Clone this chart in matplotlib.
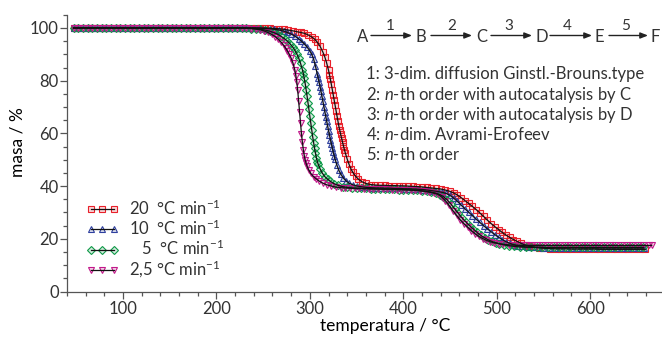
import matplotlib
matplotlib.use("Agg")
import matplotlib.pyplot as plt
from matplotlib.colors import to_rgba
from matplotlib.ticker import MultipleLocator

plt.rcParams["font.family"] = ["Lato", "DejaVu Sans"]
plt.rcParams["mathtext.fontset"] = "custom"
plt.rcParams["mathtext.rm"] = "Lato"
plt.rcParams["mathtext.it"] = "Lato:italic"
plt.rcParams["text.color"] = "#333333"

# ---- data (temperature in C, mass in %) ----
flat_t = [47, 52, 57, 62, 67, 72, 77, 82, 87, 92, 97, 102, 107, 112, 117, 122, 127,
          132, 137, 142, 147, 152, 157, 162, 167, 172, 177, 182, 187, 192, 197, 202,
          207, 212, 217, 222, 227]

# 2,5 C/min
t_25 = flat_t + [
    232, 237, 242, 247, 251, 255, 259, 263, 266, 269, 272, 274, 276, 278, 280, 282,
    284, 285, 286, 287, 288, 289, 290, 291, 292, 293, 294, 295, 296, 297, 299, 301,
    304, 307, 310, 314, 318, 323, 328, 333, 338, 343, 348, 353, 358, 363, 368, 373,
    378, 383, 388, 393, 398, 403, 408, 413, 418, 423, 428, 433, 437, 441, 445, 449,
    453, 457, 461, 465, 469, 473, 477, 481, 485, 489, 493, 497, 502, 507, 513, 519,
    525, 531, 537, 543, 549, 555, 561, 567, 573, 579, 585, 591, 597, 603, 609, 615,
    621, 627, 633, 639, 645, 651, 657, 663, 666]
m_25 = [100.0] * 37 + [
    99.9, 99.8, 99.6, 99.3, 98.9, 98.3, 97.6, 96.7, 95.8, 94.7, 93.4, 92.4, 91.3, 90.0, 88.5, 86.6,
    83.9, 81.9, 79.6, 76.3, 72.4, 68.1, 63.8, 59.9, 56.6, 53.8, 51.6, 49.9, 48.6, 47.6, 46.0, 44.8,
    43.6, 42.7, 41.9, 41.1, 40.5, 40.0, 39.6, 39.4, 39.3, 39.2, 39.1, 39.1, 39.0, 39.0, 38.9, 38.9,
    38.8, 38.8, 38.7, 38.7, 38.6, 38.6, 38.5, 38.4, 38.2, 38.0, 37.7, 37.3, 36.9, 35.9, 34.5, 32.7,
    30.7, 28.9, 27.2, 25.7, 24.4, 23.1, 21.9, 20.9, 20.1, 19.4, 18.9, 18.5, 18.2, 17.9, 17.7, 17.6,
    17.5, 17.5, 17.5, 17.5, 17.5, 17.5, 17.5, 17.5, 17.5, 17.5, 17.5, 17.5, 17.5, 17.5, 17.5, 17.5,
    17.5, 17.5, 17.5, 17.5, 17.5, 17.5, 17.5, 17.5, 17.5]

# 5 C/min
t_5 = flat_t + [
    232, 237, 242, 247, 252, 257, 261, 265, 269, 273, 276, 279, 282, 284, 286, 288,
    290, 292, 293, 294, 295, 296, 297, 298, 299, 300, 301, 302, 303, 304, 305, 306,
    307, 308, 309, 311, 313, 316, 319, 322, 326, 330, 335, 340, 345, 350, 355, 360,
    365, 370, 375, 380, 385, 390, 395, 400, 405, 410, 415, 420, 425, 430, 435, 439,
    443, 447, 451, 455, 459, 463, 467, 471, 475, 479, 483, 487, 491, 495, 499, 503,
    508, 513, 519, 525, 531, 537, 543, 549, 555, 561, 567, 573, 579, 585, 591, 597,
    603, 609, 615, 621, 627, 633, 639, 645, 651, 657]
m_5 = [100.0] * 37 + [
    99.9, 99.8, 99.7, 99.5, 99.2, 98.8, 98.3, 97.7, 96.9, 95.9, 95.0, 93.9, 92.6, 91.5, 90.2, 88.6,
    86.6, 84.2, 82.7, 80.9, 78.9, 76.6, 74.2, 71.7, 69.1, 66.5, 63.9, 61.3, 58.8, 56.5, 54.3, 52.4,
    50.7, 49.3, 48.2, 46.5, 45.1, 43.6, 42.6, 41.8, 40.9, 40.3, 39.8, 39.5, 39.3, 39.2, 39.1, 39.1,
    39.0, 39.0, 38.9, 38.9, 38.8, 38.8, 38.7, 38.7, 38.6, 38.5, 38.4, 38.2, 38.0, 37.7, 37.3, 36.8,
    36.0, 34.8, 33.2, 31.4, 29.6, 27.9, 26.4, 25.0, 23.7, 22.4, 21.3, 20.4, 19.6, 19.0, 18.5, 18.1,
    17.7, 17.4, 17.1, 16.9, 16.8, 16.8, 16.8, 16.8, 16.7, 16.7, 16.7, 16.7, 16.7, 16.7, 16.7, 16.7,
    16.7, 16.7, 16.7, 16.7, 16.7, 16.7, 16.7, 16.7, 16.7, 16.7]

# 10 C/min
t_10 = flat_t + [
    232, 237, 242, 247, 252, 257, 262, 267, 272, 276, 280, 284, 288, 291, 294, 297,
    300, 302, 304, 306, 308, 309, 310, 311, 312, 313, 314, 315, 316, 317, 318, 319,
    320, 321, 322, 323, 324, 325, 326, 327, 329, 331, 333, 336, 339, 342, 346, 351,
    356, 361, 366, 371, 376, 381, 386, 391, 396, 401, 406, 411, 416, 421, 426, 430,
    434, 438, 442, 446, 450, 454, 458, 462, 466, 470, 474, 478, 482, 486, 490, 494,
    498, 502, 506, 510, 514, 518, 522, 527, 532, 538, 544, 550, 556, 562, 568, 574,
    580, 586, 592, 598, 604, 610, 616, 622, 628, 634, 640, 646, 652, 658]
m_10 = [100.0] * 37 + [
    100.0, 100.0, 100.0, 99.9, 99.8, 99.7, 99.5, 99.2, 98.8, 98.3, 97.7, 96.9, 95.9, 95.0, 94.0, 92.8,
    91.3, 90.0, 88.2, 85.5, 82.4, 80.9, 79.4, 77.7, 75.9, 74.0, 72.1, 70.2, 68.3, 66.4, 64.6, 62.8,
    61.0, 59.3, 57.6, 56.0, 54.4, 52.9, 51.5, 50.2, 47.9, 46.0, 44.6, 43.0, 41.9, 41.1, 40.5, 40.0,
    39.7, 39.5, 39.4, 39.3, 39.3, 39.2, 39.2, 39.1, 39.1, 39.0, 39.0, 38.9, 38.8, 38.7, 38.5, 38.3,
    38.1, 37.9, 37.6, 37.2, 36.5, 35.4, 34.2, 32.8, 31.4, 30.1, 28.8, 27.5, 26.2, 25.0, 23.8, 22.7,
    21.6, 20.6, 19.7, 18.9, 18.3, 17.8, 17.4, 17.1, 16.9, 16.8, 16.7, 16.6, 16.6, 16.6, 16.6, 16.6,
    16.6, 16.6, 16.5, 16.5, 16.5, 16.5, 16.5, 16.5, 16.5, 16.5, 16.5, 16.5, 16.5, 16.5]

# 20 C/min
t_20 = flat_t + [
    232, 237, 242, 247, 252, 257, 262, 267, 272, 277, 282, 286, 290, 294, 298, 302,
    305, 308, 311, 314, 316, 318, 320, 321, 322, 323, 324, 325, 326, 327, 328, 329,
    330, 331, 332, 333, 334, 335, 336, 337, 338, 340, 342, 344, 346, 349, 352, 356,
    360, 365, 370, 375, 380, 385, 390, 395, 400, 405, 410, 415, 420, 425, 430, 435,
    440, 445, 450, 454, 458, 462, 466, 470, 474, 478, 482, 486, 490, 494, 498, 502,
    506, 510, 514, 518, 522, 526, 530, 535, 540, 545, 551, 557, 563, 569, 575, 581,
    587, 593, 599, 605, 611, 617, 623, 629, 635, 641, 647, 653, 659]
m_20 = [100.0] * 37 + [
    100.0, 100.0, 100.0, 100.0, 100.0, 99.9, 99.8, 99.7, 99.5, 99.2, 98.9, 98.6, 98.3, 98.0, 97.4, 96.6,
    95.8, 94.6, 93.0, 90.8, 89.0, 86.7, 83.9, 82.3, 80.5, 78.6, 76.6, 74.6, 72.6, 70.6, 68.6, 66.6,
    64.6, 62.8, 61.1, 59.6, 58.1, 56.6, 55.2, 53.8, 52.5, 50.2, 48.2, 46.5, 45.2, 43.7, 42.6, 41.6,
    41.0, 40.6, 40.4, 40.3, 40.3, 40.2, 40.2, 40.1, 40.1, 40.0, 39.9, 39.8, 39.7, 39.5, 39.3, 39.1,
    38.9, 38.5, 38.0, 37.4, 36.6, 35.6, 34.5, 33.4, 32.3, 31.1, 29.8, 28.5, 27.1, 25.8, 24.6, 23.5,
    22.4, 21.4, 20.5, 19.7, 19.0, 18.3, 17.7, 17.2, 16.8, 16.6, 16.4, 16.3, 16.2, 16.2, 16.2, 16.1,
    16.1, 16.1, 16.1, 16.1, 16.0, 16.0, 16.0, 16.0, 16.0, 16.0, 16.0, 16.0, 16.0]

series = [
    (t_20, m_20, "s", "#e8202a", "20  \u00b0C min$^{-1}$"),
    (t_10, m_10, "^", "#2e3f9e", "10  \u00b0C min$^{-1}$"),
    (t_5, m_5, "D", "#0f9a48", "   5  \u00b0C min$^{-1}$"),
    (t_25, m_25, "v", "#c2188a", "2,5 \u00b0C min$^{-1}$"),
]

W, H = 662, 340
fig = plt.figure(figsize=(W / 100, H / 100), dpi=100)
ax = fig.add_axes([67 / W, 48.5 / H, 595 / W, 276.7 / H])

handles, labels = [], []
for t, m, mk, col, lab in series:
    ms = 3.6 if mk == "D" else 4.2
    h1, = ax.plot(t, m, ls="none", marker=mk, ms=ms, mfc=to_rgba(col, 0.18), mec=col,
                  mew=0.8, zorder=2)
    h2, = ax.plot(t, m, color="#111111", lw=0.9, zorder=3)
    handles.append((h1, h2))
    labels.append(lab)

ax.set_xlim(40, 677)
ax.set_ylim(0, 105)
ax.xaxis.set_major_locator(MultipleLocator(100))
ax.xaxis.set_minor_locator(MultipleLocator(20))
ax.yaxis.set_major_locator(MultipleLocator(20))
ax.yaxis.set_minor_locator(MultipleLocator(5))
for s in ["top", "right"]:
    ax.spines[s].set_visible(False)
for s in ["left", "bottom"]:
    ax.spines[s].set_color("#555555")
    ax.spines[s].set_linewidth(0.9)
ax.tick_params(which="major", length=5, width=0.9, color="#555555", labelsize=12,
               labelcolor="#333333")
ax.tick_params(which="minor", length=3, width=0.9, color="#555555")
ax.tick_params(axis="y", pad=1)
ax.tick_params(axis="x", pad=2)
ax.set_xticks([100, 200, 300, 400, 500, 600])

ax.set_xlabel("temperatura / \u00b0C", fontsize=12.5)
ax.set_ylabel("masa / %", fontsize=12.5)
ax.xaxis.set_label_coords(0.534, -0.095)
ax.yaxis.set_label_coords(-0.07, 0.54)

leg = ax.legend(handles, labels, loc="upper left", bbox_to_anchor=(0.02, 0.36),
                frameon=False, fontsize=12, handlelength=2.0, handletextpad=0.6,
                labelspacing=0.05, borderaxespad=0, numpoints=3)

# reaction scheme
fx = lambda px: px / W
fy = lambda py: 1 - py / H
letters = ["A", "B", "C", "D", "E", "F"]
letter_x = [362.5, 421, 481.7, 542, 599, 655.5]
arrows = [(371, 412), (431, 472), (491, 532), (550, 592), (609, 648)]
num_x = [390, 451.7, 508.3, 567.3, 626]
for lt, lx in zip(letters, letter_x):
    fig.text(fx(lx), fy(37.5), lt, ha="center", va="center", fontsize=12)
for i, (a0, a1) in enumerate(arrows):
    ax.annotate("", xy=(fx(a1), fy(35.5)), xytext=(fx(a0), fy(35.5)),
                xycoords="figure fraction", textcoords="figure fraction",
                arrowprops=dict(arrowstyle="-|>,head_length=0.45,head_width=0.18",
                                color="#222222", lw=1.0, shrinkA=0, shrinkB=0))
    fig.text(fx(num_x[i]), fy(26), str(i + 1), ha="center", va="center", fontsize=11)

steps = [
    "1: 3-dim. diffusion Ginstl.-Brouns.type",
    "2: $n$-th order with autocatalysis by C",
    "3: $n$-th order with autocatalysis by D",
    "4: $n$-dim. Avrami-Erofeev",
    "5: $n$-th order",
]
step_y = [74, 95, 115, 135, 155]
for s, yy in zip(steps, step_y):
    fig.text(fx(366.5), fy(yy), s, ha="left", va="center", fontsize=12)

fig.savefig("out.png", dpi=100)
